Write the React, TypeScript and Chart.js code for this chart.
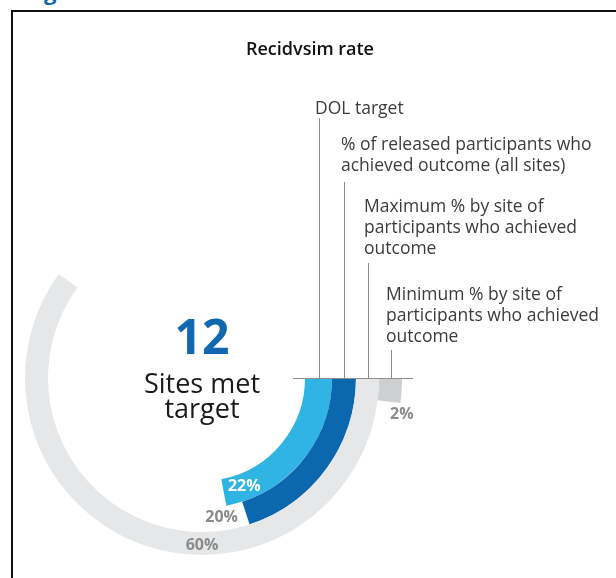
import React, { useEffect, useRef } from "react";
import { Chart, registerables } from "chart.js";

Chart.register(...registerables);

// ---- data ----
const chartTitle = "Recidvsim rate";
const seriesNames = [
  "DOL target",
  "% of released participants who achieved outcome (all sites)",
  "Maximum % by site of participants who achieved outcome",
  "Minimum % by site of participants who achieved outcome",
];
const seriesLegendLines = [
  ["DOL target"],
  ["% of released participants who", "achieved outcome (all sites)"],
  ["Maximum % by site of", "participants who achieved", "outcome"],
  ["Minimum % by site of", "participants who achieved", "outcome"],
];
const seriesValues = [22, 20, 60, 2];
const valueLabels = ["22%", "20%", "60%", "2%"];
const fullScale = 100;
const sitesMetTarget = 12;
const centerCaption = ["Sites met", "target"];

// ---- styles ----
const ringColors = ["#30b4e3", "#0b68ae", "#e6e7e8", "#cdcfd1"];
const ringWeights = [27, 24, 23, 23];
const labelColors = ["#ffffff", "#8b8b8b", "#8b8b8b", "#8b8b8b"];
const leaderTops = [118, 182, 263, 350];
const legendPos = [
  { x: 315, y: 97 },
  { x: 341, y: 133 },
  { x: 364, y: 195 },
  { x: 386, y: 283 },
];
const FONT = "'Open Sans', 'DejaVu Sans', sans-serif";

export default function App() {
  const canvasRef = useRef<HTMLCanvasElement | null>(null);

  useEffect(() => {
    const canvas = canvasRef.current;
    if (!canvas) return;
    const n = seriesValues.length;
    // outermost ring first (Chart.js draws dataset 0 outermost)
    const order = [...Array(n).keys()].reverse();
    const datasets = order.map((i) => ({
      label: seriesNames[i],
      data: [seriesValues[i], fullScale - seriesValues[i]],
      backgroundColor: [ringColors[i], "rgba(0,0,0,0)"],
      borderWidth: 0,
      weight: ringWeights[i],
      hoverOffset: 0,
    }));

    const annotate = {
      id: "annotate",
      afterDatasetsDraw(chart: any) {
        const ctx = chart.ctx;
        const rings: any[] = [];
        order.forEach((seriesIdx, dsIdx) => {
          const arc = chart.getDatasetMeta(dsIdx).data[0];
          rings[seriesIdx] = arc;
        });
        const cx = rings[0].x;
        const cy = rings[0].y;
        ctx.save();
        // leader lines
        ctx.strokeStyle = "#8e8e8e";
        ctx.lineWidth = 1;
        const innerMost = rings[0].innerRadius;
        const outerMost = rings[n - 1].outerRadius;
        ctx.beginPath();
        ctx.moveTo(cx + innerMost - 12, cy + 0.5);
        ctx.lineTo(cx + outerMost + 11, cy + 0.5);
        ctx.stroke();
        rings.forEach((arc, i) => {
          const mx = Math.round(cx + (arc.innerRadius + arc.outerRadius) / 2) + 0.5;
          ctx.beginPath();
          ctx.moveTo(mx, leaderTops[i]);
          ctx.lineTo(mx, cy);
          ctx.stroke();
        });
        // value labels
        ctx.font = `bold 16px ${FONT}`;
        ctx.textAlign = "center";
        ctx.textBaseline = "middle";
        const deg = Math.PI / 180;
        rings.forEach((arc, i) => {
          const mid = (arc.innerRadius + arc.outerRadius) / 2;
          let a = arc.endAngle;
          let r = mid;
          if (i === 0) { a = arc.endAngle - 10.5 * deg; }
          else if (i === 1) { a = arc.endAngle + 10 * deg; r = mid - 1; }
          else if (i === 2) { a = Math.PI / 2; r = mid + 2; }
          else { a = arc.endAngle + 3 * deg; r = arc.outerRadius + 3; }
          ctx.fillStyle = labelColors[i];
          ctx.fillText(valueLabels[i], cx + r * Math.cos(a), cy + r * Math.sin(a));
        });
        ctx.restore();
      },
    };

    const chart = new Chart(canvas, {
      type: "doughnut",
      data: { labels: ["value", "rest"], datasets },
      options: {
        animation: false,
        responsive: false,
        rotation: 90,
        circumference: 360,
        radius: 200,
        cutout: 103,
        layout: { padding: { left: 2, right: 214, top: 178, bottom: 0 } },
        plugins: {
          legend: { display: false },
          tooltip: { enabled: false },
          title: { display: false },
        },
        events: [],
      },
      plugins: [annotate],
    } as any);
    return () => chart.destroy();
  }, []);

  const base: React.CSSProperties = {
    position: "absolute",
    fontFamily: FONT,
    whiteSpace: "nowrap",
    margin: 0,
  };

  return (
    <div
      style={{
        position: "fixed",
        left: 0,
        top: 0,
        width: 616,
        height: 578,
        overflow: "hidden",
        background: "#ffffff",
      }}
    >
      <div
        style={{
          ...base,
          left: 44,
          top: -24,
          fontSize: 22,
          fontWeight: 700,
          color: "#1068b0",
        }}
      >
        g
      </div>
      <div
        style={{
          position: "absolute",
          left: 11,
          top: 10,
          width: 700,
          height: 700,
          border: "2px solid #111",
          boxSizing: "border-box",
        }}
      />
      <canvas
        ref={canvasRef}
        width={616}
        height={578}
        style={{ position: "absolute", left: 0, top: 0, width: 616, height: 578 }}
      />
      <div
        style={{
          ...base,
          left: 210,
          width: 200,
          textAlign: "center",
          top: 37,
          fontSize: 18,
          fontWeight: 600,
          color: "#111",
          lineHeight: "22px",
        }}
      >
        {chartTitle}
      </div>
      {seriesLegendLines.map((lines, i) => (
        <div
          key={i}
          style={{
            ...base,
            left: legendPos[i].x,
            top: legendPos[i].y,
            fontSize: 17.5,
            fontWeight: 400,
            lineHeight: "21px",
            color: "#3c3c3c",
          }}
        >
          {lines.map((l, j) => (
            <div key={j}>{l}</div>
          ))}
        </div>
      ))}
      <div
        style={{
          ...base,
          left: 102,
          width: 200,
          textAlign: "center",
          top: 308,
          fontSize: 48,
          fontWeight: 700,
          color: "#1068b0",
          lineHeight: "56px",
        }}
      >
        {sitesMetTarget}
      </div>
      <div
        style={{
          ...base,
          left: 102,
          width: 200,
          textAlign: "center",
          top: 370,
          fontSize: 27,
          color: "#1a1a1a",
          lineHeight: "25px",
        }}
      >
        {centerCaption.map((l, j) => (
          <div key={j}>{l}</div>
        ))}
      </div>
    </div>
  );
}
